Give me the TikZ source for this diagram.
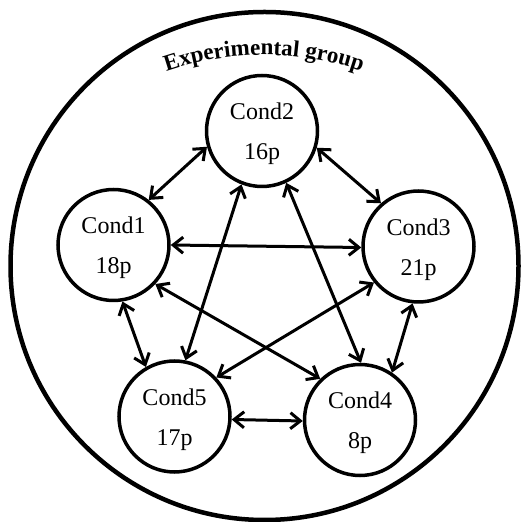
\documentclass[tikz,border=0pt]{standalone}
\usepackage{fontspec}
\setmainfont{Liberation Serif}
\usetikzlibrary{arrows.meta,decorations.text}
\begin{document}
\begin{tikzpicture}[x=1pt,y=1pt,
  cnode/.style={circle,draw,line width=3.5pt,minimum size=111pt,inner sep=0pt,align=center,
    font=\fontsize{24}{40}\selectfont},
  link/.style={line width=3pt,{Straight Barb[length=10pt,width=16pt]}-{Straight Barb[length=10pt,width=16pt]}},
  outer/.style={draw,line width=4.5pt}]
\useasboundingbox (0,0) rectangle (521,522);
\draw[outer] (264.5,256) circle[radius=254];
\path[decorate,decoration={text along path,text align=center,
  text={|\fontsize{23}{23}\selectfont\bfseries|Experimental group}}]
  (264,167) ++(125:300) arc[start angle=125,end angle=55,radius=300];
\node[cnode] (c1) at (113.5,277) {\rule{0pt}{23pt}Cond1\\18p};
\node[cnode] (c2) at (262,391) {\rule{0pt}{23pt}Cond2\\16p};
\node[cnode] (c3) at (418.5,275.5) {\rule{0pt}{23pt}Cond3\\21p};
\node[cnode] (c4) at (360,102) {\rule{0pt}{23pt}Cond4\\8p};
\node[cnode] (c5) at (174.5,105.5) {\rule{0pt}{23pt}Cond5\\17p};
\draw[link] (c1.52) -- (c2.196);
\draw[link] (c2.-17) -- (c3.131);
\draw[link] (c1.0) -- (c3.181);
\draw[link] (c2.249) -- (c5.79);
\draw[link] (c2.295) -- (c4.89);
\draw[link] (c1.279) -- (c5.120);
\draw[link] (c1.317) -- (c4.134);
\draw[link] (c3.219) -- (c5.43);
\draw[link] (c3.264) -- (c4.56);
\draw[link] (c5.-3) -- (c4.181);
\end{tikzpicture}
\end{document}
